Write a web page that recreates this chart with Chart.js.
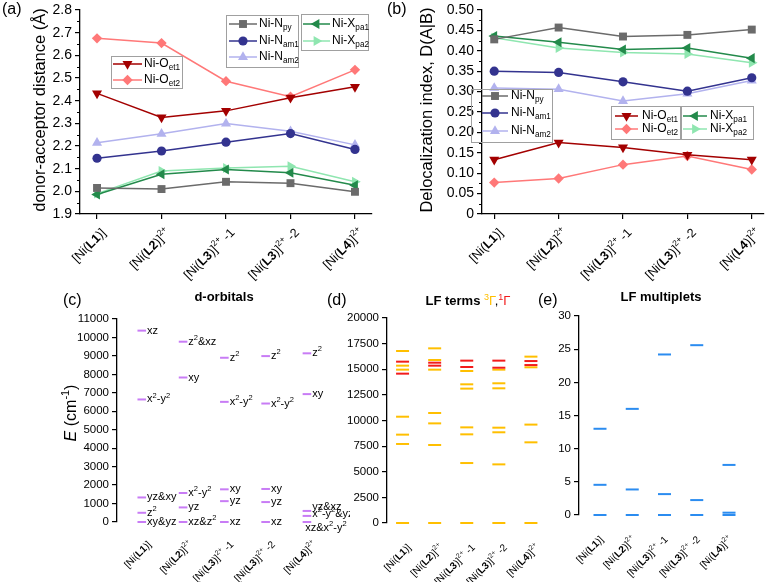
<!DOCTYPE html>
<html>
<head>
<meta charset="utf-8">
<script src="https://cdn.jsdelivr.net/npm/chart.js@4.4.1/dist/chart.umd.min.js"></script>
<style>
  body { margin: 0; background: #fff; }
  #wrap { position: relative; width: 770px; height: 582px; overflow: hidden; font-family: 'Liberation Sans', Arial, sans-serif; color: #000; }
  canvas { position: absolute; }
  .tag { position: absolute; font-size: 16px; line-height: 16px; white-space: nowrap; }
  .ttl { position: absolute; font-size: 13px; line-height: 14px; font-weight: bold; white-space: nowrap; transform: translateX(-50%); }
  .ttl sup { font-weight: normal; font-size: 9px; }
  .ttl .g { font-weight: normal; }
</style>
</head>
<body>
<div id="wrap">
  <canvas id="chartA" width="385" height="290" style="left:0;top:0"></canvas>
  <canvas id="chartB" width="385" height="290" style="left:385px;top:0"></canvas>
  <canvas id="chartC" width="350" height="292" style="left:0;top:290px"></canvas>
  <canvas id="chartD" width="230" height="292" style="left:325px;top:290px"></canvas>
  <canvas id="chartE" width="230" height="292" style="left:540px;top:290px"></canvas>
  <div class="tag" style="left:2px;top:1px">(a)</div>
  <div class="tag" style="left:387px;top:1px">(b)</div>
  <div class="tag" style="left:63px;top:292px">(c)</div>
  <div class="tag" style="left:327px;top:292px">(d)</div>
  <div class="tag" style="left:538px;top:292px">(e)</div>
  <div class="ttl" style="left:224px;top:290px">d-orbitals</div>
  <div class="ttl" style="left:468px;top:290px">LF terms <span class="g"><sup style="color:#ffbf00">3</sup><span style="color:#ffbf00">Γ</span>,<sup style="color:#f21c1c">1</sup><span style="color:#f21c1c">Γ</span></span></div>
  <div class="ttl" style="left:661px;top:290px">LF multiplets</div>
</div>
<script>
const FONT = "'Liberation Sans', Arial, sans-serif";

// categories
const complexes = ['[Ni({b:L1})]', '[Ni({b:L2})]{^:2+}', '[Ni({b:L3})]{^:2+} -1', '[Ni({b:L3})]{^:2+} -2', '[Ni({b:L4})]{^:2+}'];
const bondNames = ['Ni-N{_:py}', 'Ni-N{_:am1}', 'Ni-N{_:am2}', 'Ni-O{_:et1}', 'Ni-O{_:et2}', 'Ni-X{_:pa1}', 'Ni-X{_:pa2}'];

// (a) donor-acceptor distances
const distNpy  = [2.015, 2.010, 2.042, 2.036, 1.998];
const distNam1 = [2.146, 2.178, 2.217, 2.255, 2.185];
const distNam2 = [2.214, 2.254, 2.299, 2.265, 2.205];
const distOet1 = [2.432, 2.326, 2.355, 2.413, 2.461];
const distOet2 = [2.675, 2.654, 2.486, 2.417, 2.536];
const distXpa1 = [1.986, 2.075, 2.096, 2.082, 2.027];
const distXpa2 = [1.990, 2.090, 2.103, 2.111, 2.042];

// (b) delocalization index
const delocNpy  = [0.428, 0.457, 0.435, 0.439, 0.452];
const delocNam1 = [0.350, 0.347, 0.324, 0.301, 0.334];
const delocNam2 = [0.309, 0.306, 0.277, 0.295, 0.327];
const delocOet1 = [0.133, 0.175, 0.163, 0.145, 0.133];
const delocOet2 = [0.077, 0.087, 0.121, 0.142, 0.109];
const delocXpa1 = [0.436, 0.421, 0.403, 0.407, 0.382];
const delocXpa2 = [0.432, 0.407, 0.396, 0.392, 0.371];

// (c) d-orbital energies (cm-1) and names
const orbE_L1  = [0, 500, 1330, 6640, 10370];
const orbE_L2  = [0, 790, 1570, 7830, 9770];
const orbE_L3a = [0, 1130, 1770, 6510, 8900];
const orbE_L3b = [0, 1080, 1790, 6420, 8990];
const orbE_L4  = [0, 330, 600, 6930, 9140];
const orbN_L1  = ['xy&yz', 'z{^:2}', 'yz&xy', 'x{^:2}-y{^:2}', 'xz'];
const orbN_L2  = ['xz&z{^:2}', 'yz', 'x{^:2}-y{^:2}', 'xy', 'z{^:2}&xz'];
const orbN_L3a = ['xz', 'yz', 'xy', 'x{^:2}-y{^:2}', 'z{^:2}'];
const orbN_L3b = ['xz', 'yz', 'xy', 'x{^:2}-y{^:2}', 'z{^:2}'];
const orbN_L4  = ['xz&x{^:2}-y{^:2}', 'x{^:2}-y{^:2}&yz', 'yz&xz', 'xy', 'z{^:2}'];
const orbE = [orbE_L1, orbE_L2, orbE_L3a, orbE_L3b, orbE_L4];
const orbN = [orbN_L1, orbN_L2, orbN_L3a, orbN_L3b, orbN_L4];

// (d) LF terms (cm-1): triplets and singlets
const trip_L1  = [0, 7710, 8620, 10370, 14960, 15350, 16780];
const sing_L1  = [14570, 15740];
const trip_L2  = [0, 7610, 9720, 10730, 14960, 15900, 17040];
const sing_L2  = [15350, 15640];
const trip_L3a = [0, 5850, 8650, 9330, 13110, 13530, 14830];
const sing_L3a = [15220, 15840];
const trip_L3b = [0, 5720, 8850, 9300, 13140, 13630, 14960];
const sing_L3b = [15150, 15840];
const trip_L4  = [0, 7870, 9600, 15190, 16230];
const sing_L4  = [15410, 15800];
const triplets = [trip_L1, trip_L2, trip_L3a, trip_L3b, trip_L4];
const singlets = [sing_L1, sing_L2, sing_L3a, sing_L3b, sing_L4];

// (e) LF multiplets
const mult_L1  = [0, 4.55, 13.0];
const mult_L2  = [0, 3.85, 16.0];
const mult_L3a = [0, 3.15, 24.2];
const mult_L3b = [0, 2.25, 25.6];
const mult_L4  = [0, 0.35, 7.55];
const multiplets = [mult_L1, mult_L2, mult_L3a, mult_L3b, mult_L4];

// ---- rich text helpers ----
function parseRich(s) {
  const out = [];
  const re = /\{([b^_i]):([^}]*)\}|([^{]+)/g;
  let m;
  while ((m = re.exec(s))) out.push(m[3] !== undefined ? {t: m[3], k: 'n'} : {t: m[2], k: m[1]});
  return out;
}
function segFont(k, size) {
  if (k === 'b') return 'bold ' + size + 'px ' + FONT;
  if (k === 'i') return 'italic ' + size + 'px ' + FONT;
  if (k === '^' || k === '_') return (size * 0.68).toFixed(1) + 'px ' + FONT;
  return size + 'px ' + FONT;
}
function drawRich(ctx, s, x, y, size, align, color) {
  const segs = parseRich(s);
  ctx.save();
  ctx.fillStyle = color || '#000';
  ctx.textBaseline = 'middle';
  ctx.textAlign = 'left';
  let w = 0;
  segs.forEach(g => { ctx.font = segFont(g.k, size); g.w = ctx.measureText(g.t).width; w += g.w; });
  let cx = align === 'right' ? x - w : align === 'center' ? x - w / 2 : x;
  segs.forEach(g => {
    ctx.font = segFont(g.k, size);
    const dy = g.k === '^' ? -size * 0.36 : g.k === '_' ? size * 0.3 : 0;
    ctx.fillText(g.t, cx, y + dy);
    cx += g.w;
  });
  ctx.restore();
}

function drawLegendBox(ctx, chart, box) {
  ctx.save();
  ctx.strokeStyle = '#a0a0a0';
  ctx.lineWidth = 1;
  ctx.strokeRect(box.x + 0.5, box.y + 0.5, box.w, box.h);
  box.items.forEach(it => {
    const ds = chart.data.datasets[it.i];
    ctx.strokeStyle = ds.borderColor;
    ctx.lineWidth = ds.borderWidth;
    ctx.beginPath();
    ctx.moveTo(box.lx0, it.y);
    ctx.lineTo(box.lx1, it.y);
    ctx.stroke();
    ctx.fillStyle = ds.backgroundColor;
    Chart.helpers.drawPoint(ctx, {pointStyle: ds.pointStyle, rotation: ds.pointRotation || 0, radius: ds.pointRadius, borderWidth: 0}, (box.lx0 + box.lx1) / 2, it.y);
    drawRich(ctx, ds.label, box.tx, it.y, 12, 'left', '#000');
  });
  ctx.restore();
}

const panelPlugin = {
  id: 'panel',
  afterDraw(chart, args, o) {
    const ctx = chart.ctx, area = chart.chartArea;
    const xs = chart.scales.x, ys = chart.scales.y;
    if (o.xLabels) {
      complexes.forEach((lab, i) => {
        const px = xs.getPixelForValue(i);
        ctx.save();
        ctx.translate(px + o.xLabels.dx, area.bottom + o.xLabels.dy);
        ctx.rotate(-Math.PI / 4);
        drawRich(ctx, lab, 0, 0, o.xLabels.size, 'right', '#000');
        ctx.restore();
      });
    }
    if (o.minor) {
      ctx.save();
      ctx.strokeStyle = '#000';
      ctx.lineWidth = 1;
      for (let v = ys.min + o.minor; v < ys.max; v += 2 * o.minor) {
        const py = Math.round(ys.getPixelForValue(v)) + 0.5;
        ctx.beginPath();
        ctx.moveTo(area.left - 3, py);
        ctx.lineTo(area.left, py);
        ctx.stroke();
      }
      ctx.restore();
    }
    if (o.yTitle) {
      ctx.save();
      ctx.translate(o.yTitle.x, o.yTitle.y);
      ctx.rotate(-Math.PI / 2);
      drawRich(ctx, o.yTitle.text, 0, 0, o.yTitle.size, 'center', '#000');
      ctx.restore();
    }
    (o.legends || []).forEach(box => drawLegendBox(ctx, chart, box));
    if (o.levels) {
      chart.data.datasets.forEach((ds, j) => {
        chart.getDatasetMeta(j).data.forEach((pt, k) => {
          const n = o.levels.nudge[j + '-' + k] || [0, 0];
          drawRich(ctx, orbN[j][k], pt.x + ds.pointRadius + 1 + n[0], pt.y + n[1], o.levels.size, 'left', '#000');
        });
      });
    }
  }
};

function lineSet(name, values, color, style, rot, r) {
  return {
    label: name, data: values.map((v, i) => ({x: i, y: v})),
    borderColor: color, backgroundColor: color, borderWidth: 1.5,
    pointStyle: style, pointRotation: rot, pointRadius: r, pointBorderWidth: 0,
    showLine: true, tension: 0, clip: false
  };
}
function levelSet(values, j, color, r) {
  return {
    data: values.map(v => ({x: j, y: v})),
    borderColor: color, backgroundColor: color,
    pointStyle: 'line', pointRadius: r, pointBorderWidth: 2, pointBorderColor: color,
    showLine: false, clip: false
  };
}
function yAxis(min, max, step, fmt, width, size) {
  return {
    type: 'linear', min: min, max: max,
    afterFit: s => { s.width = width; },
    ticks: { stepSize: step, callback: fmt, color: '#000', autoSkip: false, maxTicksLimit: 30, padding: 3,
             font: {family: FONT, size: size, lineHeight: 1} },
    grid: { drawOnChartArea: false, drawTicks: true, tickLength: 5, color: '#000', lineWidth: 1.2 },
    border: { display: true, color: '#000', width: 1.3 }
  };
}
function xAxis(min, max, shown) {
  return {
    type: 'linear', min: min, max: max, display: shown,
    afterBuildTicks: s => { s.ticks = complexes.map((c, i) => ({value: i})); },
    afterFit: s => { s.height = shown ? 5 : 0; },
    ticks: { display: false },
    grid: { drawOnChartArea: false, drawTicks: true, tickLength: 5, color: '#000', lineWidth: 1.2 },
    border: { display: true, color: '#000', width: 1.3 }
  };
}
function baseOptions(padding, scales, panel) {
  return {
    responsive: false, animation: false, devicePixelRatio: 1,
    layout: { padding: padding },
    plugins: { legend: { display: false }, tooltip: { enabled: false }, panel: panel },
    scales: scales
  };
}

const colNpy = '#6b6b6b', colNam1 = '#33338f', colNam2 = '#b2b2ee', colOet1 = '#a30000',
      colOet2 = '#ff7878', colXpa1 = '#238a4b', colXpa2 = '#8fe6b0';

function bondSets(vals) {
  return [
    lineSet(bondNames[0], vals[0], colNpy, 'rect', 0, 5.6),
    lineSet(bondNames[1], vals[1], colNam1, 'circle', 0, 4.6),
    lineSet(bondNames[2], vals[2], colNam2, 'triangle', 0, 5.8),
    lineSet(bondNames[3], vals[3], colOet1, 'triangle', 180, 5.8),
    lineSet(bondNames[4], vals[4], colOet2, 'rectRot', 0, 5.2),
    lineSet(bondNames[5], vals[5], colXpa1, 'triangle', 270, 5.8),
    lineSet(bondNames[6], vals[6], colXpa2, 'triangle', 90, 5.8)
  ];
}

// (a)
new Chart(document.getElementById('chartA'), {
  type: 'scatter',
  data: { datasets: bondSets([distNpy, distNam1, distNam2, distOet1, distOet2, distXpa1, distXpa2]) },
  options: baseOptions({left: 0, top: 7, right: 13, bottom: 71}, {
    x: xAxis(-0.264, 4.264, true),
    y: yAxis(1.9, 2.8, 0.1, v => v.toFixed(1), 80, 14)
  }, {
    xLabels: {size: 12.5, dx: 7, dy: 17},
    minor: 0.05,
    yTitle: {x: 40, y: 110, size: 16.5, text: 'donor-acceptor distance (Å)'},
    legends: [
      {x: 226, y: 15, w: 72, h: 52, lx0: 229, lx1: 257, tx: 259, items: [{i: 0, y: 24}, {i: 1, y: 41}, {i: 2, y: 57}]},
      {x: 301, y: 14, w: 67, h: 36, lx0: 303, lx1: 330, tx: 332, items: [{i: 5, y: 24}, {i: 6, y: 41}]},
      {x: 111, y: 56, w: 71, h: 32, lx0: 113, lx1: 142, tx: 144, items: [{i: 3, y: 64}, {i: 4, y: 80}]}
    ]
  }),
  plugins: [panelPlugin]
});

// (b)
new Chart(document.getElementById('chartB'), {
  type: 'scatter',
  data: { datasets: bondSets([delocNpy, delocNam1, delocNam2, delocOet1, delocOet2, delocXpa1, delocXpa2]) },
  options: baseOptions({left: 0, top: 7, right: 6, bottom: 71}, {
    x: xAxis(-0.19, 4.19, true),
    y: yAxis(0, 0.5, 0.05, v => v === 0 ? '0' : v.toFixed(2), 97, 14)
  }, {
    xLabels: {size: 12.5, dx: 7, dy: 17},
    minor: 0.025,
    yTitle: {x: 42, y: 110, size: 16.5, text: 'Delocalization index, D(A|B)'},
    legends: [
      {x: 86, y: 89, w: 81, h: 53, lx0: 97, lx1: 123, tx: 126, items: [{i: 0, y: 96}, {i: 1, y: 113}, {i: 2, y: 131}]},
      {x: 226, y: 106, w: 69, h: 33, lx0: 230, lx1: 253, tx: 257, items: [{i: 3, y: 116}, {i: 4, y: 129}]},
      {x: 296, y: 106, w: 72, h: 33, lx0: 298, lx1: 322, tx: 325, items: [{i: 5, y: 116}, {i: 6, y: 129}]}
    ]
  }),
  plugins: [panelPlugin]
});

// (c)
new Chart(document.getElementById('chartC'), {
  type: 'scatter',
  data: { datasets: orbE.map((arr, j) => levelSet(arr, j, '#c87cf5', 4.3)) },
  options: baseOptions({left: 0, top: 29, right: 15, bottom: 60}, {
    x: xAxis(-0.6, 4.68, false),
    y: yAxis(0, 11000, 1000, v => String(v), 117, 11.5)
  }, {
    xLabels: {size: 10, dx: 8, dy: 21},
    yTitle: {x: 72, y: 123, size: 16, text: '{i:E} (cm{^:-1})'},
    levels: {size: 11, nudge: {'4-0': [-7, 6], '4-1': [0, -2], '4-2': [0, -4]}}
  }),
  plugins: [panelPlugin]
});

// (d)
new Chart(document.getElementById('chartD'), {
  type: 'scatter',
  data: { datasets: singlets.map((arr, j) => levelSet(arr, j, '#f21c1c', 6.5))
                      .concat(triplets.map((arr, j) => levelSet(arr, j, '#ffbf00', 6.5))) },
  options: baseOptions({left: 0, top: 28, right: 4, bottom: 59}, {
    x: xAxis(-0.485, 4.485, false),
    y: yAxis(0, 20000, 2500, v => String(v), 62, 11.5)
  }, {
    xLabels: {size: 10, dx: 7, dy: 23}
  }),
  plugins: [panelPlugin]
});

// (e)
new Chart(document.getElementById('chartE'), {
  type: 'scatter',
  data: { datasets: multiplets.map((arr, j) => levelSet(arr, j, '#2b8cf0', 6.5)) },
  options: baseOptions({left: 0, top: 26, right: 20, bottom: 67}, {
    x: xAxis(-0.651, 4.651, false),
    y: yAxis(0, 30, 5, v => String(v), 39, 11.5)
  }, {
    xLabels: {size: 10, dx: 2, dy: 23}
  }),
  plugins: [panelPlugin]
});
</script>
</body>
</html>
